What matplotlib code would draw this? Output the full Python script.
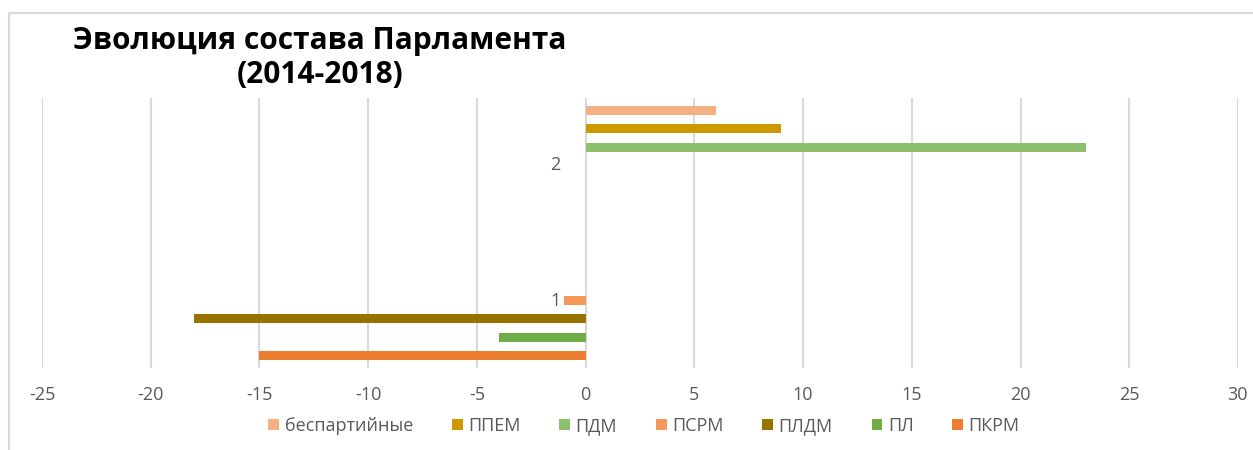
import numpy as np
import matplotlib.pyplot as plt
from matplotlib.patches import Rectangle

plt.rcParams['font.family'] = ['Open Sans', 'DejaVu Sans']

# data
categories = ["1", "2"]
series = ["беспартийные", "ППЕМ", "ПДМ", "ПСРМ", "ПЛДМ", "ПЛ", "ПКРМ"]
values = {
    "беспартийные": [0, 6],
    "ППЕМ": [0, 9],
    "ПДМ": [0, 23],
    "ПСРМ": [-1, 0],
    "ПЛДМ": [-18, 0],
    "ПЛ": [-4, 0],
    "ПКРМ": [-15, 0],
}
colors = ["#F4B183", "#CC9900", "#8BC16A", "#F4995A", "#997300", "#70AD47", "#ED7D31"]
xticks = [-25, -20, -15, -10, -5, 0, 5, 10, 15, 20, 25, 30]

W, H = 1253, 450
fig = plt.figure(figsize=(W / 100, H / 100), dpi=100)
ax = fig.add_axes([42 / W, 1 - 368 / H, (1238 - 42) / W, (368 - 98) / H])

# chart border (only top/left visible in crop)
fig.patches.append(Rectangle((8.5 / W, -0.1), 1.2, 1 - 12.5 / H + 0.1, transform=fig.transFigure,
                             fill=False, edgecolor="#D9D9D9", linewidth=1.5))

ypos = np.arange(len(categories)) + 1
slot = 0.136
bar_h = 0.066
n = len(series)
for i, (name, c) in enumerate(zip(series, colors)):
    off = (n - 1) / 2 - i
    vals = values[name]
    ax.barh(ypos + off * slot, vals, height=bar_h, color=c, label=name, zorder=3)

ax.set_xlim(-25, 30)
ax.set_ylim(0.5, 2.5)
ax.set_xticks(xticks)
ax.set_xticklabels([str(t) for t in xticks], fontsize=13, color="#595959")
ax.tick_params(axis="x", length=0, pad=13)
ax.set_yticks([])
ax.grid(axis="x", color="#D9D9D9", linewidth=1.5, zorder=0)
for s in ax.spines.values():
    s.set_visible(False)

# category labels sit next to the zero line
for y, lbl in zip(ypos, categories):
    ax.annotate(lbl, (0, y), xytext=(-18, 0), textcoords="offset points",
                ha="right", va="center", fontsize=13, color="#595959", zorder=4)

fig.text(320 / W, 1 - 58 / H, "Эволюция состава Парламента\n(2014-2018)", ha="center", va="center",
         fontsize=21.5, fontweight="bold", color="black", linespacing=1.2)

leg = fig.legend(loc="center", bbox_to_anchor=(644 / W, 1 - 426 / H), ncol=7, frameon=False,
                 fontsize=13, handlelength=0.6, handleheight=0.6, handletextpad=0.3,
                 columnspacing=2.15, labelcolor="#595959")

fig.savefig("out.png", dpi=100)
